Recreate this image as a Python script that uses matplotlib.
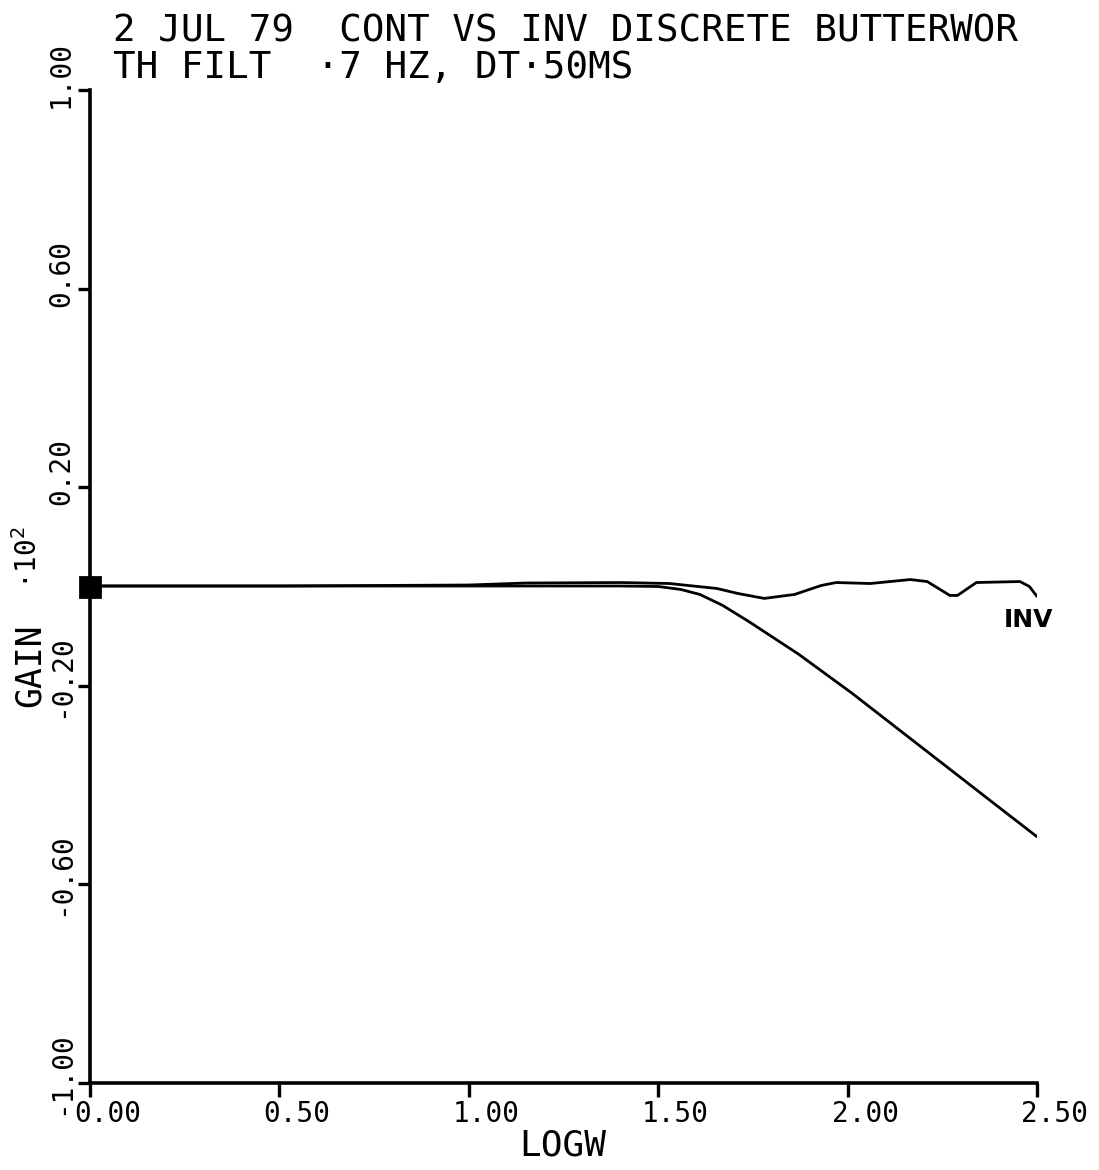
import matplotlib
matplotlib.use("Agg")
import matplotlib.pyplot as plt
from matplotlib import transforms

# ---- data ----
cont_logw = [0.00, 0.50, 1.00, 1.40, 1.50, 1.56, 1.61, 1.67, 1.74, 1.87, 2.01, 2.14, 2.27, 2.40, 2.50]
cont_gain = [0.001, 0.001, 0.001, 0.001, 0.000, -0.006, -0.016, -0.038, -0.071, -0.136, -0.214, -0.291, -0.368, -0.445, -0.504]

inv_logw = [0.00, 0.50, 1.00, 1.15, 1.40, 1.53, 1.655, 1.71, 1.78, 1.86, 1.93, 1.97, 2.06, 2.165, 2.21, 2.27, 2.29, 2.34, 2.455, 2.48, 2.50]
inv_gain = [0.001, 0.001, 0.003, 0.007, 0.008, 0.006, -0.004, -0.014, -0.024, -0.016, 0.002, 0.008, 0.006, 0.014, 0.010, -0.018, -0.018, 0.008, 0.010, 0.000, -0.020]

x_ticks = [0.0, 0.5, 1.0, 1.5, 2.0, 2.5]
x_tick_labels = ["0.00", "0.50", "1.00", "1.50", "2.00", "2.50"]
y_ticks = [1.0, 0.6, 0.2, -0.2, -0.6, -1.0]
y_tick_labels = ["1.00", "0.60", "0.20", "-0.20", "-0.60", "-1.00"]

title_line1 = "2 JUL 79  CONT VS INV DISCRETE BUTTERWOR"
title_line2 = "TH FILT  \u00b77 HZ, DT\u00b750MS"

W, H = 1099, 1170
fig = plt.figure(figsize=(W / 100, H / 100), dpi=100)
ax = fig.add_axes([90 / W, 1 - 1083 / H, (1037 - 90) / W, (1083 - 90) / H])

ax.plot(cont_logw, cont_gain, color="black", lw=2.0, solid_joinstyle="round", solid_capstyle="round")
ax.plot(inv_logw, inv_gain, color="black", lw=2.0, solid_joinstyle="round", solid_capstyle="round")
ax.plot([0.0], [0.0], marker="s", ms=14, mfc="black", mec="black", mew=2, clip_on=False, zorder=5)

ax.set_xlim(0, 2.5)
ax.set_ylim(-1.0, 1.0)
for s in ["top", "right"]:
    ax.spines[s].set_visible(False)
for s in ["left", "bottom"]:
    ax.spines[s].set_linewidth(2.6)

mono = "DejaVu Sans Mono"
fs_tick = 20
cw = 0.602 * fs_tick * 100 / 72  # character advance in pixels

ax.set_xticks(x_ticks)
ax.set_xticklabels([])
ax.set_yticks(y_ticks)
ax.set_yticklabels([])
ax.tick_params(axis="x", direction="out", length=10, width=2.4)
ax.tick_params(axis="y", direction="out", length=9, width=2.4)

# x tick labels: decimal point sits just right of the tick
xtrans = transforms.blended_transform_factory(ax.transData, ax.transAxes)
for xv, lab in zip(x_ticks, x_tick_labels):
    idot = lab.index(".")
    dx = 9 - (idot + 0.5) * cw
    tr = transforms.offset_copy(xtrans, fig=fig, x=dx, y=-17, units="dots")
    ax.text(xv, 0, lab, family=mono, fontsize=fs_tick, ha="left", va="top",
            transform=tr, clip_on=False)

# y tick labels: rotated, reading upward from just below the tick
ytrans = transforms.blended_transform_factory(fig.transFigure, ax.transData)
for yv, lab in zip(y_ticks, y_tick_labels):
    dy = -32 if lab.startswith("-") else -18
    tr = transforms.offset_copy(ytrans, fig=fig, x=0, y=dy, units="dots")
    ax.text(61 / W, yv, lab, family=mono, fontsize=fs_tick, rotation=90,
            rotation_mode="anchor", ha="left", va="center", transform=tr, clip_on=False)

fig.text(563 / W, 1 - 1128 / H, "LOGW", family=mono, fontsize=26, ha="center", va="top")

fig.text(30 / W, 1 - 665 / H, "GAIN", family=mono, fontsize=25, rotation=90,
         ha="center", va="center")
fig.text(28 / W, 1 - 558 / H, "\u00b710$^2$", family=mono, fontsize=20, rotation=90,
         ha="center", va="center")

fig.text(113 / W, 1 - 32 / H, title_line1, family=mono, fontsize=27, ha="left", va="center")
fig.text(113 / W, 1 - 68 / H, title_line2, family=mono, fontsize=27, ha="left", va="center")

ax.text(2.478, -0.067, "INV", fontsize=18, fontweight="bold", ha="center", va="center")

fig.savefig("out.png", dpi=100, facecolor="white")
